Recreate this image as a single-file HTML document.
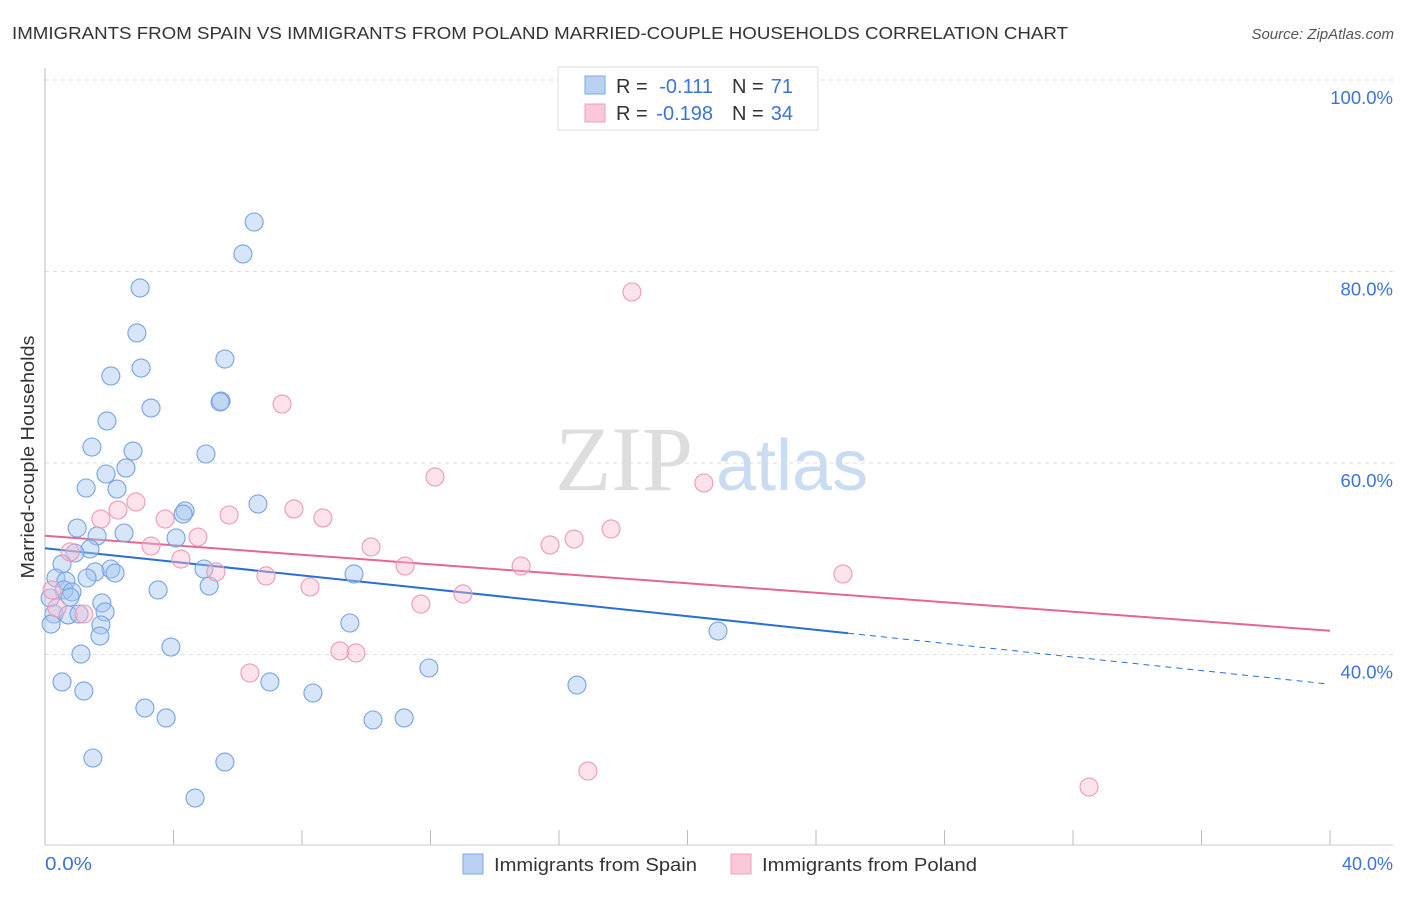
<!DOCTYPE html>
<html><head><meta charset="utf-8">
<style>
body{margin:0;background:#fff;font-family:"Liberation Sans",sans-serif;}
svg text{font-family:"Liberation Sans",sans-serif;}
</style></head>
<body>
<svg id="chart" width="1406" height="892" xmlns="http://www.w3.org/2000/svg">
<text x="12" y="39" font-size="17.5" fill="#333" textLength="1056" lengthAdjust="spacingAndGlyphs">IMMIGRANTS FROM SPAIN VS IMMIGRANTS FROM POLAND MARRIED-COUPLE HOUSEHOLDS CORRELATION CHART</text>
<text x="1394" y="39" font-size="15" fill="#555" font-style="italic" text-anchor="end">Source: ZipAtlas.com</text>
<g id="grid"></g>
<g>
<text x="555" y="490" font-size="92" fill="#ddd" font-family="Liberation Serif" style="font-family:'Liberation Serif',serif">ZIP</text>
<text x="716" y="490" font-size="72" fill="#c9dcf2">atlas</text>
</g>
<line x1="45" y1="68" x2="45" y2="845" stroke="#bbb"/>
<line x1="45" y1="845" x2="1393" y2="845" stroke="#ccc"/>
<g id="xticks"></g>
<g id="ylabels"></g>
<text x="45" y="870" font-size="18" fill="#3b74d6" textLength="47" lengthAdjust="spacingAndGlyphs">0.0%</text>
<text x="1393" y="870" font-size="18" fill="#3b74d6" text-anchor="end">40.0%</text>
<text transform="translate(34,457) rotate(-90)" font-size="18" fill="#333" text-anchor="middle" textLength="243" lengthAdjust="spacingAndGlyphs">Married-couple Households</text>
<g id="lines"></g>
<g id="points"></g>
<g>
<rect x="558" y="67" width="260" height="63" fill="#fff" stroke="#ddd"/>
<rect x="585" y="76" width="20" height="18" fill="#b8d1f3" stroke="#7fa6e0"/>
<rect x="585" y="104" width="20" height="18" fill="#fac8d7" stroke="#eea0b8"/>
<text x="616" y="93" font-size="20" fill="#333">R = </text><text x="713" y="93" font-size="20" fill="#3b74d6" text-anchor="end">-0.111</text>
<text x="732" y="93" font-size="20" fill="#333">N = </text><text x="793" y="93" font-size="20" fill="#3b74d6" text-anchor="end">71</text>
<text x="616" y="120" font-size="20" fill="#333">R = </text><text x="713" y="120" font-size="20" fill="#3b74d6" text-anchor="end">-0.198</text>
<text x="732" y="120" font-size="20" fill="#333">N = </text><text x="793" y="120" font-size="20" fill="#3b74d6" text-anchor="end">34</text>
</g>
<g>
<rect x="463" y="854" width="20" height="20" fill="#b8d1f3" stroke="#7fa6e0"/>
<text x="494" y="871" font-size="18" fill="#333" textLength="203" lengthAdjust="spacingAndGlyphs">Immigrants from Spain</text>
</g>
<g>
<rect x="731" y="854" width="20" height="20" fill="#fac8d7" stroke="#eea0b8"/>
<text x="762" y="871" font-size="18" fill="#333" textLength="215" lengthAdjust="spacingAndGlyphs">Immigrants from Poland</text>
</g>
</svg>
<script>
const yTicks=[100,80,60,40];
const yTickLabels=["100.0%","80.0%","60.0%","40.0%"];
const xTickVals=[0,4,8,12,16,20,24,28,32,36,40];
const spainX=[6.51,6.16,2.96,2.86,5.60,2.99,2.05,3.30,5.48,5.45,1.93,1.46,2.74,5.01,2.52,1.90,1.28,2.24,6.63,4.36,4.30,1.00,2.46,1.62,4.08,1.40,0.93,0.53,2.05,1.56,2.18,4.95,9.62,0.34,0.65,1.31,5.11,3.52,0.59,0.84,0.78,0.16,1.77,1.87,0.28,0.72,1.06,1.74,0.19,9.49,20.95,1.71,1.12,3.92,11.95,0.53,7.00,16.56,1.21,8.34,3.11,3.77,10.21,11.18,1.49,5.60,4.67];
const spainY=[85.17,81.83,78.28,73.58,70.86,69.92,69.09,65.74,66.47,66.37,64.39,61.67,61.25,60.94,59.48,58.85,57.39,57.28,55.72,54.99,54.67,53.21,52.69,52.38,52.17,51.02,50.60,49.45,48.93,48.62,48.51,48.93,48.41,47.99,47.67,47.99,47.15,46.74,46.74,46.53,46.00,45.90,45.38,44.44,44.23,44.13,44.23,43.08,43.18,43.29,42.45,41.93,40.05,40.78,38.59,37.13,37.13,36.81,36.19,35.98,34.41,33.37,33.16,33.37,29.19,28.77,25.01];
const polandX=[18.27,7.38,12.14,20.51,2.83,2.27,7.75,5.73,1.74,3.74,8.65,17.62,4.76,3.30,16.47,15.72,10.15,0.78,4.23,11.21,14.82,5.32,6.88,24.84,8.25,13.01,0.22,11.70,0.37,1.21,9.18,9.68,6.38,16.90,32.50];
const polandY=[77.86,66.16,58.54,57.91,55.93,55.09,55.20,54.57,54.15,54.15,54.26,53.11,52.27,51.33,52.06,51.44,51.23,50.71,49.97,49.24,49.24,48.62,48.20,48.41,47.05,46.32,46.74,45.27,44.86,44.23,40.37,40.16,38.07,27.83,26.16];
const spainTrend=[51.1,-0.355];
const polandTrend=[52.4,-0.248];
const NS="http://www.w3.org/2000/svg";
const X=v=>45+v/40*1285;
const Y=v=>80+(100-v)/20*191.5;
function el(t,a,p){const e=document.createElementNS(NS,t);for(const k in a)e.setAttribute(k,a[k]);document.getElementById(p).appendChild(e);return e;}
yTicks.forEach((t,i)=>{
 const g=el('line',{x1:45,x2:1393,y1:Y(t),y2:Y(t),stroke:'#ddd','stroke-dasharray':'4,4'},'grid');
 
 
 const l=el('text',{x:1393,y:Y(t)+24,'font-size':18.5,fill:'#3b74d6','text-anchor':'end'},'ylabels');
 l.textContent=yTickLabels[i];
 
 
});
xTickVals.forEach(v=>{
 const t=el('line',{x1:X(v),x2:X(v),y1:830,y2:845,stroke:'#bbb'},'xticks');
 
 
});
function pts(xs,ys,fill,stroke,name){
 xs.forEach((x,i)=>{
  const c=el('circle',{cx:X(x),cy:Y(ys[i]),r:9,fill:fill,stroke:stroke,'stroke-width':1.1},'points');
  
  
 });
}
pts(spainX,spainY,'rgba(165,198,240,0.45)','#76a2e2','point-spain');
pts(polandX,polandY,'rgba(247,185,205,0.42)','#eb9ab6','point-poland');
const f=(tr,x)=>tr[0]+tr[1]*x;
let a=el('line',{x1:X(0),y1:Y(f(spainTrend,0)),x2:X(25),y2:Y(f(spainTrend,25)),stroke:'#2a6fd6','stroke-width':2},'lines');


a=el('line',{x1:X(25),y1:Y(f(spainTrend,25)),x2:X(39.85),y2:Y(f(spainTrend,39.85)),stroke:'#2a6fd6','stroke-width':1,'stroke-dasharray':'6,5'},'lines');


a=el('line',{x1:X(0),y1:Y(f(polandTrend,0)),x2:X(40),y2:Y(f(polandTrend,40)),stroke:'#e5668f','stroke-width':2},'lines');


</script>
</body></html>
